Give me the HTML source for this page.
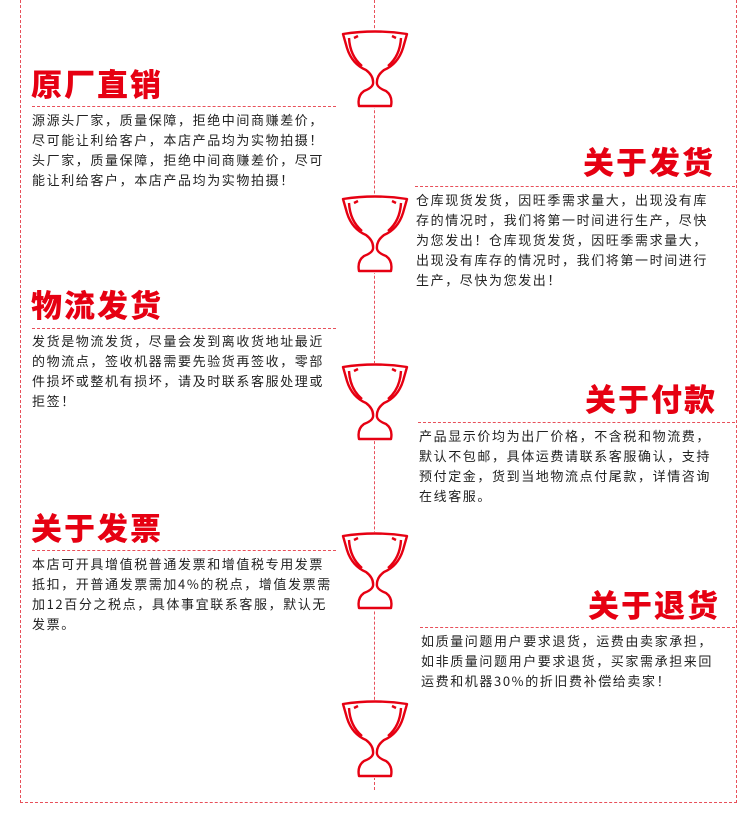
<!DOCTYPE html>
<html><head><meta charset="utf-8"><style>
body{margin:0;width:750px;height:813px;background:#fff;position:relative;overflow:hidden;font-family:"Liberation Sans","Noto Sans CJK SC",sans-serif}
.frame{position:absolute;left:20px;top:-5px;width:717px;height:808px;border:1.5px dashed #e8505a;border-top:none;box-sizing:border-box}
.vline{position:absolute;left:374px;top:0;height:790px;border-left:1.5px dashed #e8505a}
.t{position:absolute;font-family:"Noto Sans CJK SC",sans-serif;font-weight:900;color:#e60012;font-size:31px;line-height:36px;letter-spacing:2px}
.hr{position:absolute;border-top:1.5px dashed #e8505a;height:0}
.p{position:absolute;font-size:13px;line-height:20px;color:#222;letter-spacing:1.6px;font-family:"Noto Sans CJK SC",sans-serif}
svg.tr{position:absolute;width:70px;height:78px;background:#fff}
</style></head><body>
<div class="frame"></div>
<div class="vline"></div>
<svg width="0" height="0" style="position:absolute"><defs><g id="tro" fill="none" stroke="#e60012" stroke-width="2.4" stroke-linejoin="round">
<path d="M3 4 Q35 -1 67 4 L63 18 Q58 34 44 40 Q36 46 37 54 Q38 58 46 61 Q53 66 51 76 L19 76 Q17 66 24 61 Q32 58 33 54 Q34 46 26 40 Q12 34 7 18 Z"/>
<path d="M9 8 Q10 26 22 36 M61 8 Q60 26 48 36"/>
<path d="M14 8 L18 6 M56 8 L52 6"/></g></defs></svg>
<svg class="tr" style="left:340px;top:30px" viewBox="0 0 70 78"><use href="#tro"/></svg>
<svg class="tr" style="left:340px;top:195px" viewBox="0 0 70 78"><use href="#tro"/></svg>
<svg class="tr" style="left:340px;top:363px" viewBox="0 0 70 78"><use href="#tro"/></svg>
<svg class="tr" style="left:340px;top:532px" viewBox="0 0 70 78"><use href="#tro"/></svg>
<svg class="tr" style="left:340px;top:700px" viewBox="0 0 70 78"><use href="#tro"/></svg>

<div class="t" style="left:31px;top:65px">原厂直销</div>
<div class="hr" style="left:32px;top:106px;width:304px"></div>
<div class="p" style="left:32px;top:110px">源源头厂家，质量保障，拒绝中间商赚差价，<br>尽可能让利给客户，本店产品均为实物拍摄！<br>头厂家，质量保障，拒绝中间商赚差价，尽可<br>能让利给客户，本店产品均为实物拍摄！</div>

<div class="t" style="left:583px;top:143px">关于发货</div>
<div class="hr" style="left:415px;top:186px;width:320px"></div>
<div class="p" style="left:416px;top:190px">仓库现货发货，因旺季需求量大，出现没有库<br>存的情况时，我们将第一时间进行生产，尽快<br>为您发出！仓库现货发货，因旺季需求量大，<br>出现没有库存的情况时，我们将第一时间进行<br>生产，尽快为您发出！</div>

<div class="t" style="left:31px;top:286px">物流发货</div>
<div class="hr" style="left:32px;top:328px;width:304px"></div>
<div class="p" style="left:32px;top:331px">发货是物流发货，尽量会发到离收货地址最近<br>的物流点，签收机器需要先验货再签收，零部<br>件损坏或整机有损坏，请及时联系客服处理或<br>拒签！</div>

<div class="t" style="left:585px;top:380px">关于付款</div>
<div class="hr" style="left:418px;top:422px;width:317px"></div>
<div class="p" style="left:419px;top:426px">产品显示价均为出厂价格，不含税和物流费，<br>默认不包邮，具体运费请联系客服确认，支持<br>预付定金，货到当地物流点付尾款，详情咨询<br>在线客服。</div>

<div class="t" style="left:31px;top:509px">关于发票</div>
<div class="hr" style="left:32px;top:550px;width:304px"></div>
<div class="p" style="left:32px;top:554px">本店可开具增值税普通发票和增值税专用发票<br>抵扣，开普通发票需加4%的税点，增值发票需<br>加12百分之税点，具体事宜联系客服，默认无<br>发票。</div>

<div class="t" style="left:588px;top:586px">关于退货</div>
<div class="hr" style="left:420px;top:627px;width:315px"></div>
<div class="p" style="left:421px;top:631px">如质量问题用户要求退货，运费由卖家承担，<br>如非质量问题用户要求退货，买家需承担来回<br>运费和机器30%的折旧费补偿给卖家！</div>
</body></html>
